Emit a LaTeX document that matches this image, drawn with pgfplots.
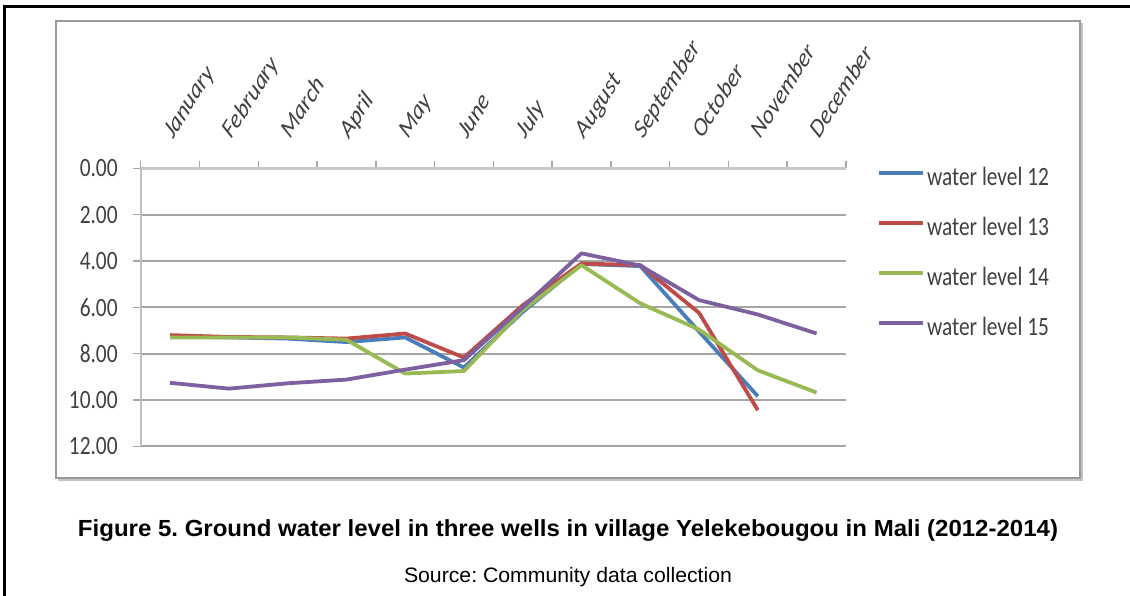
\documentclass[border=0pt]{standalone}
\usepackage{fontspec}
\setmainfont{Carlito}[FakeStretch=0.81]
\newfontfamily\carl{Carlito}
\newfontfamily\arial{Liberation Sans}
\usepackage{graphicx}
\usepackage{pgfplots}
\pgfplotsset{compat=1.18}
\frenchspacing
\definecolor{c12}{HTML}{4A7EBB}
\definecolor{c13}{HTML}{BE4B48}
\definecolor{c14}{HTML}{98B954}
\definecolor{c15}{HTML}{7D60A0}
\definecolor{gridgray}{HTML}{A6A6A6}
\definecolor{axisgray}{HTML}{C8C8C8}
\definecolor{yaxisgray}{HTML}{C0C0C0}
\definecolor{labgray}{HTML}{404040}
\definecolor{boxgray}{HTML}{9A9A9A}
\definecolor{boxshadow}{HTML}{C4C4C4}
\begin{document}
\begin{tikzpicture}
\useasboundingbox (0,0) rectangle (1130pt,-595pt);
\draw[line width=2.6pt] (4.2pt,-596pt) -- (4.2pt,-6.2pt) -- (1131pt,-6.2pt);
\draw[line width=2pt, color=boxshadow] (58pt,-480pt) -- (1082pt,-480pt) -- (1082pt,-23pt);
\draw[line width=1.6pt, color=boxgray] (56pt,-21pt) rectangle (1080pt,-478pt);
\begin{axis}[
  at={(140.7pt,-168.3pt)}, anchor=north west,
  scale only axis, width=705.3pt, height=278pt,
  xmin=0.5, xmax=12.5, ymin=0, ymax=12, y dir=reverse,
  axis x line*=top, axis y line*=left,
  xtick={0.5,1.5,...,12.5}, x tick label as interval,
  xticklabels={January,February,March,April,May,June,July,August,September,October,November,December},
  ytick={0,2,...,12},
  ymajorgrids, grid style={color=gridgray, line width=1.8pt},
  tick align=outside, major tick length=7.5pt,
  tick style={color=gridgray, line width=1.5pt},
  x axis line style={color=axisgray, line width=3pt},
  y axis line style={color=yaxisgray, line width=1.8pt},
  yticklabel style={font=\fontsize{26.4}{30}\selectfont, text=labgray, xshift=-12pt,
    /pgf/number format/fixed, /pgf/number format/fixed zerofill,
    /pgf/number format/precision=2, /pgf/number format/assume math mode=true},
  xticklabel style={font=\carl\itshape\fontsize{26.4}{30}\selectfont, text=labgray, inner sep=0pt,
    xshift=3pt, yshift=21pt, xscale=0.81, rotate=52, anchor=base west},
  legend style={at={(axis description cs:1.044,1.011)}, anchor=north west,
    draw=none, fill=none, inner sep=0pt, row sep=30pt,
    nodes={inner sep=0pt, text height=20pt, text depth=0pt,
      font=\fontsize{26.4}{30}\selectfont, text=labgray}},
  legend cell align=left,
  legend image code/.code={\draw[#1] (0pt,2.3pt) -- (44pt,2.3pt); \path (46pt,0pt);},
  every axis plot/.append style={line width=3.8pt, line join=round},
]
\addplot[c12] coordinates {(1,7.25)(2,7.3)(3,7.35)(4,7.5)(5,7.3)(6,8.6)(7,6.2)(8,4.13)(9,4.22)(10,7.05)(11,9.84)};
\addlegendentry{water level 12}
\addplot[c13] coordinates {(1,7.2)(2,7.28)(3,7.3)(4,7.35)(5,7.13)(6,8.17)(7,5.91)(8,4.11)(9,4.18)(10,6.24)(11,10.44)};
\addlegendentry{water level 13}
\addplot[c14] coordinates {(1,7.3)(2,7.3)(3,7.3)(4,7.4)(5,8.86)(6,8.75)(7,6.12)(8,4.18)(9,5.83)(10,6.96)(11,8.72)(12,9.68)};
\addlegendentry{water level 14}
\addplot[c15] coordinates {(1,9.26)(2,9.51)(3,9.28)(4,9.12)(5,8.69)(6,8.28)(7,6.0)(8,3.67)(9,4.2)(10,5.69)(11,6.31)(12,7.13)};
\addlegendentry{water level 15}
\end{axis}
\node[anchor=base, inner sep=0pt, font=\arial\bfseries\fontsize{23.3}{28}\selectfont] at (568pt,-536pt) {\resizebox{980pt}{\height}{Figure 5. Ground water level in three wells in village Yelekebougou in Mali (2012-2014)}};
\node[anchor=base, inner sep=0pt, font=\arial\fontsize{20.9}{25}\selectfont] at (568pt,-582pt) {\resizebox{328pt}{\height}{Source: Community data collection}};
\end{tikzpicture}
\end{document}
